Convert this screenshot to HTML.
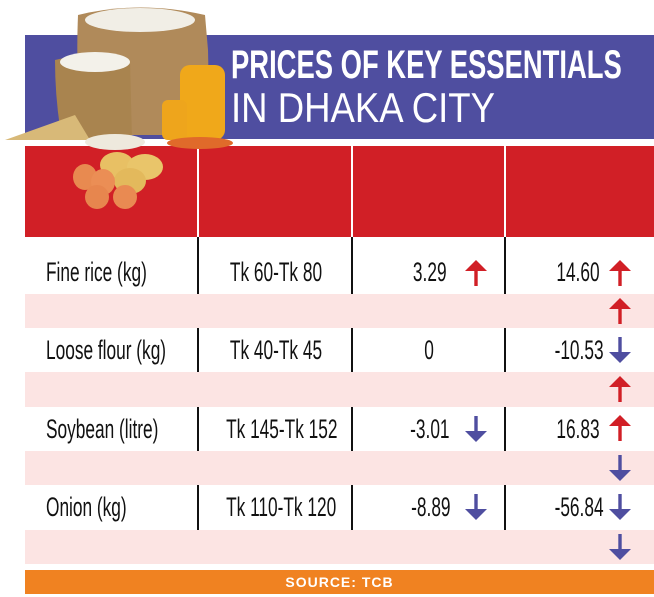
<!DOCTYPE html><html><head><style>
body{margin:0;width:654px;height:597px;background:#fff;position:relative;overflow:hidden;font-family:"Liberation Sans",sans-serif}
.a{position:absolute}
.t{position:absolute;font-size:27px;color:#111;transform:scaleX(.64);white-space:nowrap;line-height:27px}
.vl{position:absolute;width:2px;background:#111}
.pk{position:absolute;left:25px;width:629px;background:#fce4e3}
</style></head><body>
<div class="a" style="left:25px;top:35px;width:629px;height:104px;background:#4f4ea0"></div>
<div class="a" style="left:231px;top:44px;font-size:40px;font-weight:bold;color:#fff;transform:scaleX(.685);transform-origin:left;white-space:nowrap;line-height:42px">PRICES OF KEY ESSENTIALS</div>
<div class="a" style="left:231px;top:87px;font-size:42px;color:#fff;transform:scaleX(.87);transform-origin:left;white-space:nowrap;line-height:42px">IN DHAKA CITY</div>
<div class="a" style="left:25px;top:146px;width:629px;height:91px;background:#d11f26"></div>
<div class="a" style="left:197px;top:146px;width:2px;height:91px;background:#fff"></div>
<div class="a" style="left:351px;top:146px;width:2px;height:91px;background:#fff"></div>
<div class="a" style="left:504px;top:146px;width:2px;height:91px;background:#fff"></div>
<svg class="a" style="left:0;top:0" width="240" height="150">
<path d="M78 15 Q140 0 205 15 L208 50 Q210 120 200 135 L85 135 Q75 90 78 15Z" fill="#b08a5a"/>
<ellipse cx="140" cy="20" rx="55" ry="12" fill="#f1eee6"/>
<path d="M55 60 Q95 50 130 60 L132 140 L62 140 Q55 100 55 60Z" fill="#a9844f"/>
<ellipse cx="95" cy="62" rx="35" ry="10" fill="#f3f1ea"/>
<rect x="180" y="65" width="45" height="75" rx="10" fill="#f0a81a"/>
<rect x="162" y="100" width="25" height="40" rx="6" fill="#eea51c"/>
<path d="M5 140 L75 115 L90 140Z" fill="#d8b978"/>
<ellipse cx="115" cy="142" rx="30" ry="8" fill="#eee9dd"/>
<ellipse cx="200" cy="143" rx="33" ry="6" fill="#e06a2a"/>
</svg>
<svg class="a" style="left:55px;top:145px" width="130" height="65">
<ellipse cx="62" cy="20" rx="17" ry="13" fill="#e8c064"/><ellipse cx="90" cy="22" rx="18" ry="13" fill="#e9c56a"/>
<ellipse cx="75" cy="36" rx="16" ry="13" fill="#e3b95c"/>
<ellipse cx="30" cy="32" rx="12" ry="13" fill="#e88a50"/><ellipse cx="48" cy="37" rx="12" ry="13" fill="#eb8e55"/>
<ellipse cx="42" cy="52" rx="12" ry="12" fill="#e7864e"/><ellipse cx="70" cy="52" rx="12" ry="12" fill="#e98a52"/>
</svg>
<div class="pk" style="top:294px;height:34px"></div>
<div class="pk" style="top:372px;height:35px"></div>
<div class="pk" style="top:451px;height:34px"></div>
<div class="pk" style="top:530px;height:34px"></div>
<div class="vl" style="left:197px;top:237px;height:57px"></div><div class="vl" style="left:351px;top:237px;height:57px"></div><div class="vl" style="left:504px;top:237px;height:57px"></div>
<div class="vl" style="left:197px;top:328px;height:44px"></div><div class="vl" style="left:351px;top:328px;height:44px"></div><div class="vl" style="left:504px;top:328px;height:44px"></div>
<div class="vl" style="left:197px;top:407px;height:44px"></div><div class="vl" style="left:351px;top:407px;height:44px"></div><div class="vl" style="left:504px;top:407px;height:44px"></div>
<div class="vl" style="left:197px;top:485px;height:45px"></div><div class="vl" style="left:351px;top:485px;height:45px"></div><div class="vl" style="left:504px;top:485px;height:45px"></div>
<div class="t" style="left:46px;top:259px;transform-origin:left">Fine rice (kg)</div>
<div class="t" style="left:46px;top:337px;transform-origin:left">Loose flour (kg)</div>
<div class="t" style="left:46px;top:416px;transform-origin:left">Soybean (litre)</div>
<div class="t" style="left:46px;top:494px;transform-origin:left">Onion (kg)</div>
<div class="t" style="left:198px;width:156px;text-align:center;top:259px">Tk 60-Tk 80</div>
<div class="t" style="left:198px;width:156px;text-align:center;top:337px">Tk 40-Tk 45</div>
<div class="t" style="left:198px;width:156px;text-align:center;top:416px">Tk 145-Tk 152</div>
<div class="t" style="left:198px;width:156px;text-align:center;top:494px">Tk 110-Tk 120</div>
<div class="t" style="right:207px;top:259px;transform-origin:right">3.29</div>
<div class="t" style="left:399px;width:60px;text-align:center;top:337px">0</div>
<div class="t" style="right:204px;top:416px;transform-origin:right">-3.01</div>
<div class="t" style="right:203px;top:494px;transform-origin:right">-8.89</div>
<div class="t" style="right:54px;top:259px;transform-origin:right">14.60</div>
<div class="t" style="right:50px;top:337px;transform-origin:right">-10.53</div>
<div class="t" style="right:54px;top:416px;transform-origin:right">16.83</div>
<div class="t" style="right:50px;top:494px;transform-origin:right">-56.84</div>
<svg class="a" style="left:0;top:0" width="654" height="597">
<defs>
<g id="u"><path d="M0 -13 L-11 -2 L-1.7 -2 L-1.7 13 L1.7 13 L1.7 -2 L11 -2Z" fill="#d11f26"/></g>
<g id="d"><path d="M0 13 L-11 2 L-1.7 2 L-1.7 -13 L1.7 -13 L1.7 2 L11 2Z" fill="#4f4ea0"/></g>
</defs>
<use href="#u" x="476" y="273"/><use href="#u" x="620" y="273"/>
<use href="#u" x="620" y="311"/>
<use href="#d" x="620" y="350"/>
<use href="#u" x="620" y="389"/>
<use href="#d" x="476" y="429"/><use href="#u" x="620" y="428"/>
<use href="#d" x="620" y="468"/>
<use href="#d" x="476" y="507"/><use href="#d" x="620" y="507"/>
<use href="#d" x="620" y="547"/>
</svg>
<div class="a" style="left:25px;top:570px;width:629px;height:24px;background:#f08221;color:#fff;font-weight:bold;font-size:14px;letter-spacing:1px;line-height:24px;text-align:center">SOURCE: TCB</div>
</body></html>
